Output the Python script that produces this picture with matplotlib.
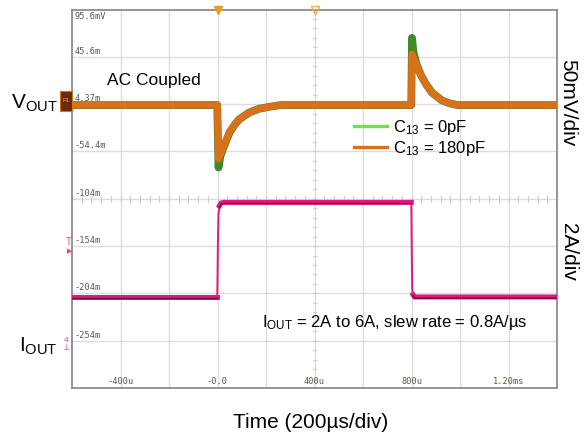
import matplotlib
matplotlib.use("Agg")
import matplotlib.pyplot as plt
import matplotlib.patches as mpatches
import numpy as np

plt.rcParams['font.family'] = ['Liberation Sans', 'DejaVu Sans']
plt.rcParams['mathtext.fontset'] = 'custom'
plt.rcParams['mathtext.rm'] = 'Liberation Sans'
plt.rcParams['mathtext.it'] = 'Liberation Sans'

# Scope settings: 200us/div horizontally, 8 vertical divisions
TIME_PER_DIV = 200
MV_PER_DIV = 50
A_PER_DIV = 2
VOUT_ZERO_DIV = 5.98
IOUT_ZERO_DIV = 0.924

# VOUT deviation (mV, AC coupled)
t_vout = [-600, -1, 4, 12, 25, 37, 50, 70, 90, 130, 170, 210, 260,
          799, 802, 808, 820, 840, 860, 885, 925, 955, 990, 1400]
vout_0pf = [0, 0, -66, -54, -45, -37, -29, -21, -15, -8, -4, -2, 0,
            0, 71, 56, 44, 31, 22, 13, 5, 2, 0, 0]
vout_180pf = [0, 0, -57, -52, -44, -36, -28, -21, -15, -8, -4, -2, 0,
              0, 54, 50, 43, 31, 22, 13, 5, 2, 0, 0]

# Load current step (A)
t_iout = [-600, -1, 2, 4, 8, 14, 25, 799, 801, 803, 806, 812, 830, 1400]
iout = [2, 2, 4.5, 5.5, 5.85, 5.97, 6, 6, 4, 2.3, 2.1, 2.0, 2.0, 2]

level_labels = ["95.6mV", "45.6m", "4.37m", "-54.4m", "-104m", "-154m", "-204m", "-254m"]
time_ticks = [-400, 0, 400, 800, 1200]
time_labels = ["-400u", "-0.0", "400u", "800u", "1.20ms"]

W, H = 587, 441
fig = plt.figure(figsize=(W / 100, H / 100), dpi=100)
ax = fig.add_axes([72 / W, 1 - 388 / H, 485 / W, 378.5 / H])

x0, x1 = -600, 1400
ax.set_xlim(x0, x1)
ax.set_ylim(0, 8)
ax.set_xticks([])
ax.set_yticks([])
for s in ax.spines.values():
    s.set_color('#8c8c8c')
    s.set_linewidth(1.3)

# graticule
for xv in np.arange(x0 + TIME_PER_DIV, x1, TIME_PER_DIV):
    ax.axvline(xv, color='#dcdcdc', lw=1.0, zorder=0)
for yv in range(1, 8):
    ax.axhline(yv, color='#dcdcdc', lw=1.0, zorder=0)
# minor ticks on the centre lines
xc, yc = 400, 4
for xv in np.arange(x0, x1, TIME_PER_DIV / 5):
    ax.plot([xv, xv], [yc - 0.06, yc + 0.06], color='#cfcfcf', lw=0.9, zorder=0)
for yv in np.arange(0, 8, 0.2):
    ax.plot([xc - 6, xc + 6], [yv, yv], color='#cfcfcf', lw=0.9, zorder=0)

# level / time labels
lab_kw = dict(family='DejaVu Sans Mono', fontsize=6.2, color='#5e5848')
for i, lab in enumerate(level_labels):
    yv = 8 - i
    if i == 0:
        ax.text(x0 + 10, yv - 0.06, lab, va='top', ha='left', **lab_kw)
    else:
        ax.text(x0 + 10, yv + 0.02, lab, va='bottom', ha='left', **lab_kw)
for xv, lab in zip(time_ticks, time_labels):
    ax.text(xv, 0.04, lab, va='bottom', ha='center', **lab_kw)

# VOUT traces
y0 = VOUT_ZERO_DIV + np.array(vout_0pf) / MV_PER_DIV
y180 = VOUT_ZERO_DIV + np.array(vout_180pf) / MV_PER_DIV
ax.plot(t_vout, y0, color='#3f8a2a', lw=5.6, zorder=3, solid_joinstyle='round')
ax.plot(t_vout, y180, color='#d9701a', lw=5.0, zorder=4, solid_joinstyle='round')

# IOUT trace
yi = IOUT_ZERO_DIV + np.array(iout) / A_PER_DIV
ax.plot(t_iout, yi, color='#e0187f', lw=1.4, zorder=3)
for a, b in [(0, 2), (4, 8), (10, 14)]:
    ax.plot(t_iout[a:b], yi[a:b], color='#e0187f', lw=3.6, zorder=3)
    ax.plot(t_iout[a:b], yi[a:b] - 0.025, color='#7a0a3c', lw=1.0, zorder=3)

# legend
h1 = plt.Line2D([], [], color='#77dd55', lw=2.4)
h2 = plt.Line2D([], [], color='#d9701a', lw=2.4)
ax.legend([h1, h2], ["C$_{13}$ = 0pF", "C$_{13}$ = 180pF"],
          loc='upper left', bbox_to_anchor=((354 - 72) / 485, (388 - 118) / 378.5),
          frameon=False, fontsize=12, handlelength=1.95, handletextpad=0.4,
          labelspacing=0.12, borderpad=0, borderaxespad=0)

# scope markers
ax.plot([0], [8], marker='v', color='#f39a1e', ms=6, clip_on=False, zorder=6)
ax.plot([400], [8], marker='v', mfc='none', mec='#f3a94a', ms=6, clip_on=False, zorder=6)
fig.patches.append(mpatches.Rectangle((60 / W, 1 - 111 / H), 12 / W, 20 / H,
                                      transform=fig.transFigure, facecolor='#6b2a05',
                                      edgecolor='#d9701a', lw=0.8))
fig.text(66 / W, 1 - 101 / H, "R1", color='#e0a060', fontsize=4, ha='center', va='center')
fig.text(69 / W, 1 - 242 / H, "T", color='#f03c9a', fontsize=7, ha='center', va='center')
fig.text(70 / W, 1 - 252 / H, "\u25b6", color='#f03c9a', fontsize=5, ha='center', va='center')
fig.text(66 / W, 1 - 341 / H, "4", color='#f03c9a', fontsize=6, ha='center', va='center')
fig.text(66 / W, 1 - 349 / H, "\u22a5", color='#f03c9a', fontsize=6, ha='center', va='center')

# annotations
fig.text(107 / W, 1 - 80 / H, "AC Coupled", fontsize=12.5, ha='left', va='center')
fig.text(262 / W, 1 - 323 / H, "I$_{\\mathrm{OUT}}$ = 2A to 6A, slew rate = 0.8A/\u00b5s",
         fontsize=12, ha='left', va='center')
fig.text(58 / W, 1 - 103 / H, "V$_{\\mathrm{OUT}}$", fontsize=15, ha='right', va='center')
fig.text(58 / W, 1 - 346 / H, "I$_{\\mathrm{OUT}}$", fontsize=15, ha='right', va='center')
fig.text(568 / W, 1 - 103 / H, "50mV/div", fontsize=15, rotation=270, ha='center', va='center')
fig.text(568 / W, 1 - 252 / H, "2A/div", fontsize=15, rotation=270, ha='center', va='center')
fig.text(311 / W, 1 - 423 / H, "Time (200\u00b5s/div)", fontsize=15, ha='center', va='center')

fig.savefig("out.png", dpi=100)
